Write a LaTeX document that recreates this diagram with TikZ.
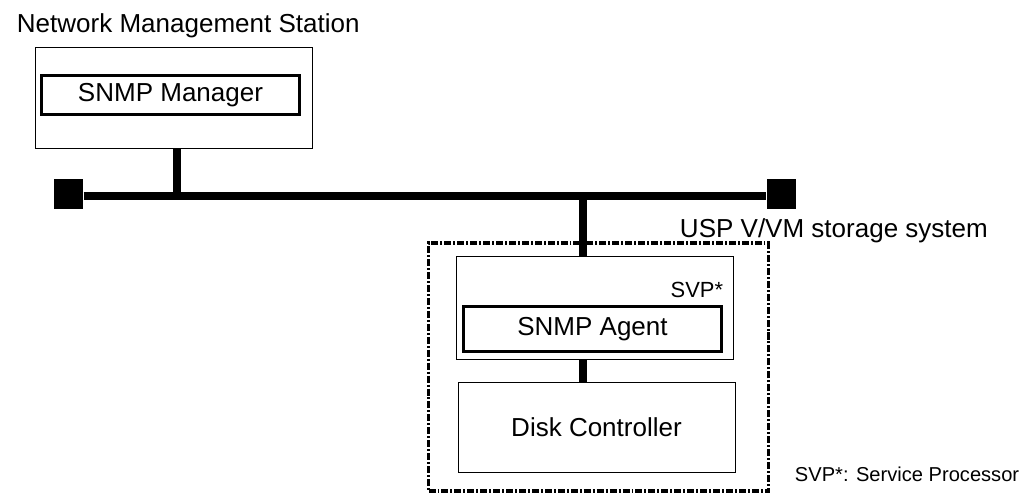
\documentclass[tikz,border=0pt]{standalone}
\usepackage{fontspec}
\setmainfont{Liberation Sans}
\usetikzlibrary{positioning}

\tikzset{
  hostbox/.style={draw, line width=0.7pt, inner sep=0pt, font=\fontsize{18.5}{22}\selectfont},
  appbox/.style={draw, line width=2.4pt, inner sep=0pt, font=\fontsize{18.5}{22}\selectfont},
  term/.style={fill=black, inner sep=0pt, minimum size=0.74cm},
  wire/.style={line width=5.5pt},
  sysline/.style={line width=2.8pt, dash pattern=on 5pt off 1.4pt on 1.4pt off 1.4pt}
}

\begin{document}
\begin{tikzpicture}
\useasboundingbox (0, 0) rectangle (25.725, -12.325);

\node[anchor=base west, font=\fontsize{18.5}{22}\selectfont] (NMSL) at (0.3, -0.8) {Network Management Station};
\node[hostbox, minimum width=6.925cm, minimum height=2.525cm] (NMS) at (4.3375, -2.4375) {};
\node[appbox, minimum width=6.45cm, minimum height=0.98cm] (Mgr) at (4.2625, -2.375) {SNMP Manager};

\node[term] (LT) at (1.7125, -4.85) {};
\node[term] (RT) at (19.5375, -4.85) {};
\coordinate (J1) at (4.425, -4.9);
\coordinate (J2) at (14.575, -4.9);
\draw[wire] (LT.east |- J1) -- (RT.west |- J1);
\draw[wire] (J1) -- (J1 |- NMS.south);

\node[anchor=base west, font=\fontsize{18.5}{22}\selectfont] (SysL) at (16.875, -5.925) {USP V/VM storage system};
\node[sysline, draw, inner sep=0pt, minimum width=8.5cm, minimum height=6.2cm] (Sys) at (14.9625, -9.175) {};

\node[hostbox, minimum width=6.925cm, minimum height=2.575cm] (SVP) at (14.8625, -7.6875) {};
\node[anchor=base east, font=\fontsize{15.6}{19}\selectfont] (SVPL) at (18.2, -7.425) {SVP*};
\node[appbox, minimum width=6.45cm, minimum height=1.13cm] (Agt) at (14.8125, -8.225) {SNMP Agent};
\node[hostbox, minimum width=6.925cm, minimum height=2.25cm] (DC) at (14.9125, -10.675) {Disk Controller};

\draw[wire] (J2) -- (J2 |- SVP.north);
\draw[wire] (J2 |- SVP.south) -- (J2 |- DC.north);

\node[anchor=base west, font=\fontsize{14.3}{17}\selectfont] (Note) at (19.75, -12.025) {SVP*: Service Processor};
\end{tikzpicture}
\end{document}
